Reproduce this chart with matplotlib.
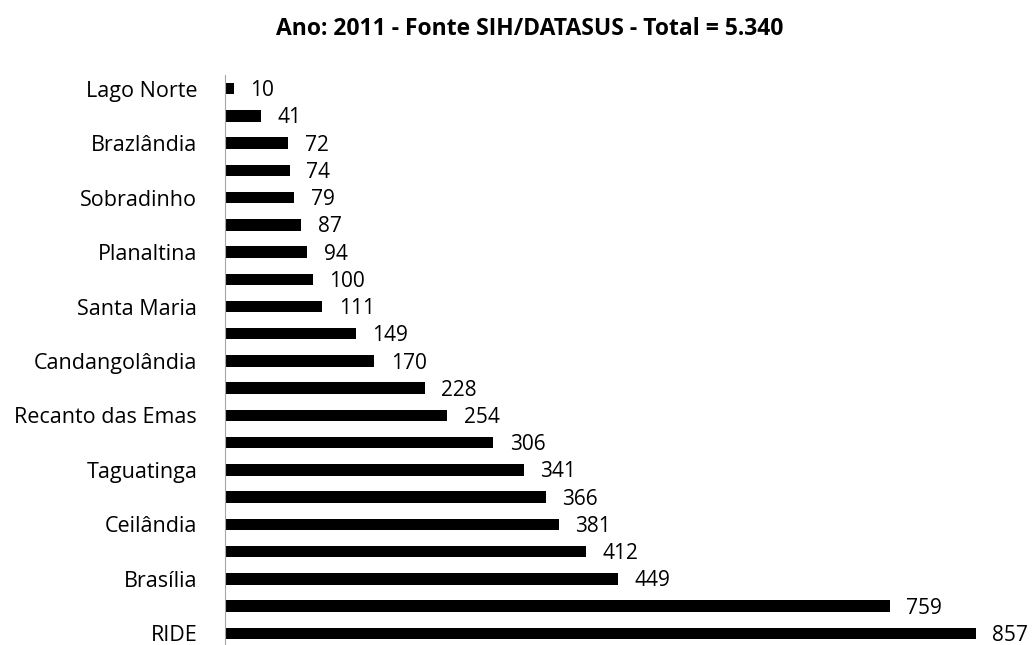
import matplotlib.pyplot as plt

# regioes (so metade aparece no eixo, como no grafico original)
regioes = ['Lago Norte', '', 'Brazlândia', '', 'Sobradinho', '', 'Planaltina', '',
           'Santa Maria', '', 'Candangolândia', '', 'Recanto das Emas', '',
           'Taguatinga', '', 'Ceilândia', '', 'Brasília', '', 'RIDE']
internacoes = [10, 41, 72, 74, 79, 87, 94, 100, 111, 149, 170, 228, 254, 306,
               341, 366, 381, 412, 449, 759, 857]
titulo = 'Ano: 2011 - Fonte SIH/DATASUS - Total = 5.340'


def plot_data():
    plt.rcParams['font.family'] = ['Open Sans', 'DejaVu Sans']
    fig = plt.figure(figsize=(10.35, 6.45), dpi=100)
    ax = fig.add_axes([0.2174, -0.003, 0.7616, 0.8867])

    pos = list(range(len(regioes)))
    ax.barh(pos, internacoes, height=0.42, color='black')
    for p, v in zip(pos, internacoes):
        ax.annotate(str(v), (v, p), xytext=(12, -1.5), textcoords='offset points',
                    ha='left', va='center', fontsize=15)

    ax.set_xlim(0, 900)
    ax.set_ylim(len(regioes) - 0.5, -0.5)
    ax.set_yticks(pos)
    ax.set_yticklabels(regioes, fontsize=15.5)
    ax.tick_params(axis='y', length=0, pad=20)
    ax.set_xticks([])
    for s in ['top', 'right', 'bottom']:
        ax.spines[s].set_visible(False)
    ax.spines['left'].set_color('#a6a6a6')

    fig.text(0.512, 0.955, titulo, ha='center', va='center', fontsize=16.5, fontweight='bold')
    fig.savefig('out.png')


def main():
    plot_data()


if __name__ == '__main__':
    main()
